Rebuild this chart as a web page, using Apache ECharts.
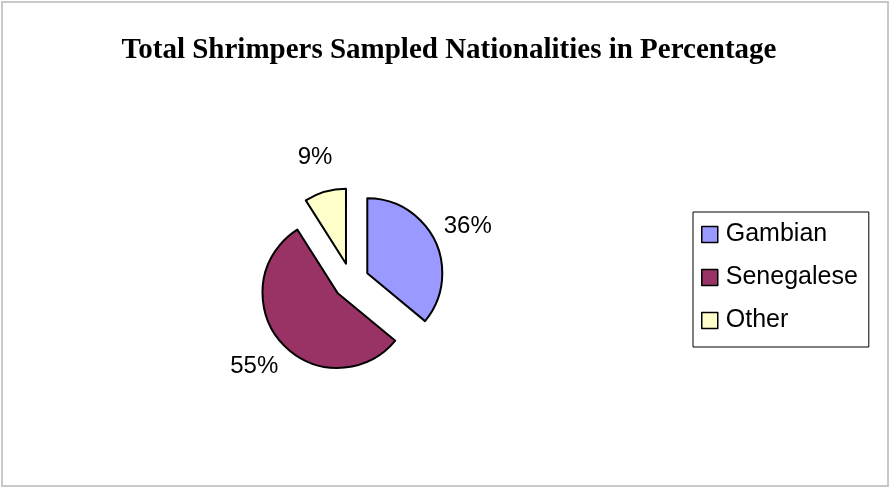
<!DOCTYPE html>
<html>
<head>
<meta charset="utf-8">
<script src="https://cdn.jsdelivr.net/npm/echarts@6/dist/echarts.min.js"></script>
<style>
  html, body { margin: 0; padding: 0; background: #fff; }
  #chart { width: 890px; height: 487px; }
</style>
</head>
<body>
<div id="chart"></div>
<script>
// nationalities of sampled shrimpers, percent
var nationalities = ['Gambian', 'Senegalese', 'Other'];
var percents = [36, 55, 9];
var sliceColors = ['#9999FF', '#993366', '#FFFFCC'];

var myChart = echarts.init(document.getElementById('chart'));

var pieData = [];
for (var i = 0; i < nationalities.length; i++) {
  pieData.push({
    name: nationalities[i],
    value: percents[i],
    selected: true,
    itemStyle: { color: sliceColors[i] }
  });
}

var option = {
  backgroundColor: '#ffffff',
  animation: false,
  title: {
    text: 'Total Shrimpers Sampled Nationalities in Percentage',
    left: 444,
    textAlign: 'center',
    top: 31,
    textStyle: {
      fontFamily: 'Liberation Serif',
      fontWeight: 'bold',
      fontSize: 29,
      color: '#000'
    }
  },
  legend: {
    orient: 'vertical',
    left: 693,
    top: 212,
    padding: [10, 11, 14, 8],
    itemGap: 18,
    itemWidth: 16,
    itemHeight: 16,
    borderColor: '#000',
    borderWidth: 1,
    selectedMode: false,
    icon: 'rect',
    data: nationalities,
    itemStyle: { borderColor: '#000', borderWidth: 1.5 },
    textStyle: {
      fontFamily: 'Liberation Sans',
      fontSize: 25,
      color: '#000',
      padding: [0, 0, 0, 3]
    }
  },
  graphic: [{
    type: 'rect',
    shape: { x: 2, y: 2, width: 886, height: 484 },
    style: { fill: null, stroke: '#c8c8c8', lineWidth: 2 },
    silent: true
  }],
  series: [{
    name: 'Nationalities',
    type: 'pie',
    center: [351, 281],
    radius: 75,
    startAngle: 90,
    clockwise: true,
    selectedMode: 'multiple',
    selectedOffset: 18,
    avoidLabelOverlap: false,
    itemStyle: { borderColor: '#000', borderWidth: 2 },
    label: {
      show: true,
      position: 'outside',
      formatter: '{d}%',
      fontFamily: 'Liberation Sans',
      fontSize: 24,
      color: '#000',
      distanceToLabelLine: 0
    },
    labelLine: { show: false, length: 36, length2: 0 },
    labelLayout: function () {
      return { align: 'center', verticalAlign: 'middle' };
    },
    emphasis: { disabled: true },
    data: pieData
  }]
};

myChart.setOption(option);
</script>
</body>
</html>
